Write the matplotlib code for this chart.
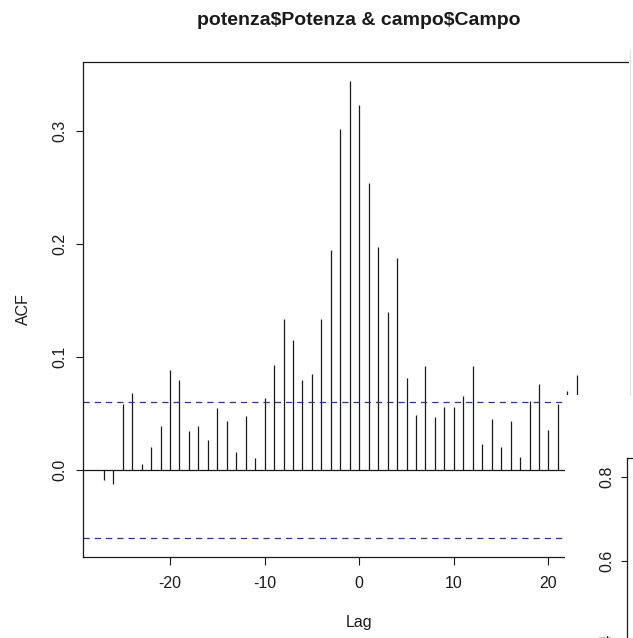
import matplotlib
matplotlib.use("Agg")
import matplotlib.pyplot as plt
from matplotlib.patches import Rectangle
from matplotlib.lines import Line2D

plt.rcParams['font.family'] = ['Liberation Sans', 'DejaVu Sans']

# cross-correlation values (lags -27 .. 23 visible)
lags = list(range(-27, 24))
acf = [-0.009, -0.012, 0.059, 0.068, 0.006, 0.021, 0.039, 0.089, 0.080, 0.035,
       0.039, 0.027, 0.055, 0.044, 0.016, 0.048, 0.011, 0.064, 0.093, 0.134,
       0.115, 0.080, 0.085, 0.134, 0.195, 0.302, 0.344, 0.323, 0.254, 0.197,
       0.140, 0.188, 0.082, 0.049, 0.092, 0.047, 0.056, 0.056, 0.066, 0.092,
       0.023, 0.045, 0.021, 0.044, 0.012, 0.061, 0.076, 0.036, 0.059, 0.070,
       0.084]
ci = 0.06
xticks = [-20, -10, 0, 10, 20]
yticks = [0.0, 0.1, 0.2, 0.3]
yticks2 = [0.4, 0.6, 0.8]

W, H = 633, 638
fig = plt.figure(figsize=(W / 100, H / 100), dpi=100)


def box(l, t, r, b):
    return [l / W, 1 - b / H, (r - l) / W, (b - t) / H]


ax = fig.add_axes(box(83.3, 61.7, 635.1, 556.5))
ax.vlines(lags, 0, acf, color='#1a1a1a', lw=0.9)
ax.axhline(0, color='#1a1a1a', lw=0.9)
for c in (ci, -ci):
    ax.axhline(c, color='#33338f', lw=0.9, linestyle=(0, (5, 4)))
ax.set_xlim(-29.16, 29.16)
ax.set_ylim(-0.0762, 0.3612)
ax.set_xticks(xticks)
ax.set_xticklabels([str(v) for v in xticks])
ax.set_yticks(yticks)
ax.set_yticklabels([f"{v:.1f}" for v in yticks], rotation=90, va='center')
ax.tick_params(axis='both', direction='out', length=5.4, width=0.8,
               labelsize=11.5, colors='#1a1a1a')
ax.tick_params(axis='x', pad=9)
ax.tick_params(axis='y', pad=6)
for s in ax.spines.values():
    s.set_linewidth(0.9)
    s.set_color('#1a1a1a')
ax.spines['right'].set_visible(False)

fig.text(359 / W, 1 - 25 / H, r"potenza\$Potenza & campo\$Campo", ha='center',
         va='baseline', fontsize=14, fontweight='bold', color='#1a1a1a')
fig.text(359 / W, 1 - 622 / H, "Lag", ha='center', va='center',
         fontsize=11.5, color='#1a1a1a')
fig.text(23 / W, 1 - 309 / H, "ACF", ha='center', va='center', rotation=90,
         fontsize=11.5, color='#1a1a1a')

# the other plot window lying over the lower right corner
fig.add_artist(Rectangle((565 / W, 0), 1, (H - 395) / H, transform=fig.transFigure,
                         facecolor='white', edgecolor='none', zorder=5))
fig.add_artist(Rectangle((629 / W, 0), 1, 1, transform=fig.transFigure,
                         facecolor='white', edgecolor='none', zorder=5))
fig.add_artist(Line2D([629.5 / W, 629.5 / W], [1 - 50 / H, 1 - 395 / H],
                      transform=fig.transFigure, color='#e2e2e2', lw=0.8, zorder=6))

ax2 = fig.add_axes(box(627.3, 458.3, 700, 700))
ax2.set_zorder(10)
ax2.set_ylim(0.2683, 0.8438)
ax2.set_xticks([])
ax2.set_yticks(yticks2)
ax2.set_yticklabels([f"{v:.1f}" for v in yticks2], rotation=90, va='center')
ax2.tick_params(axis='y', direction='out', length=4.2, width=0.8,
                labelsize=11.5, colors='#1a1a1a', pad=5)
for s in ax2.spines.values():
    s.set_linewidth(0.9)
    s.set_color('#1a1a1a')

fig.savefig("out.png", dpi=100)
